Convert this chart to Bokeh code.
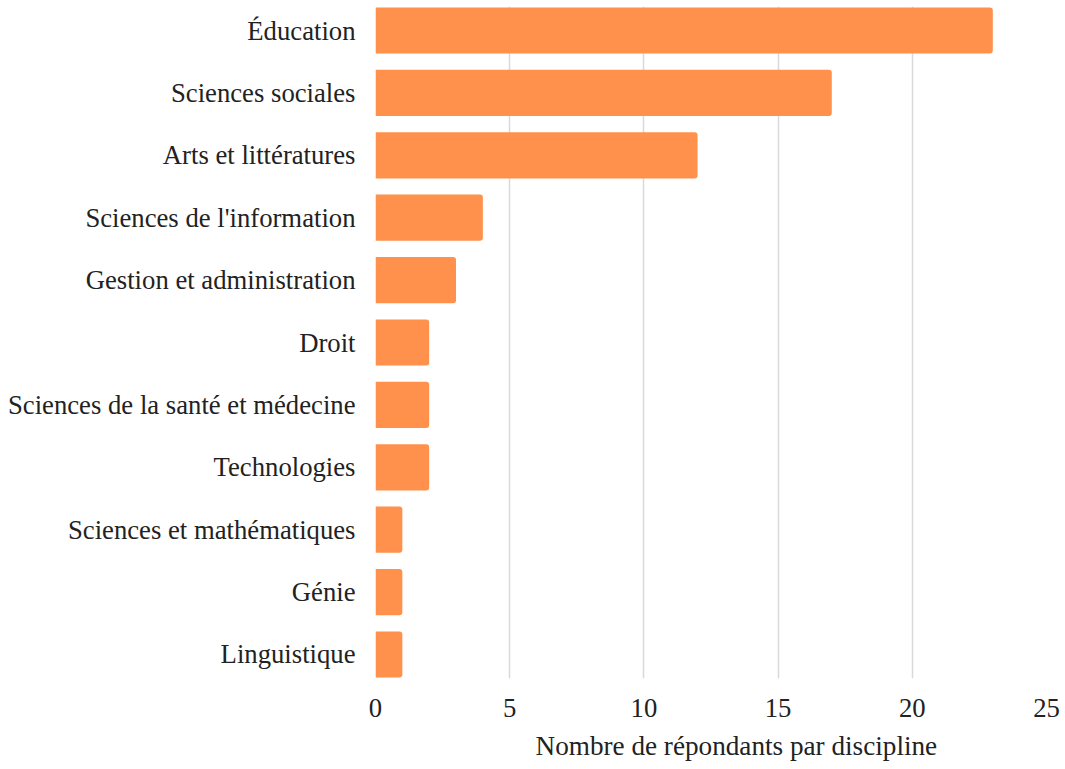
from bokeh.plotting import figure
from bokeh.models import FactorRange, Title, FixedTicker
from bokeh.embed import file_html
from bokeh.resources import INLINE

disciplines = ["Éducation", "Sciences sociales", "Arts et littératures",
               "Sciences de l'information", "Gestion et administration", "Droit",
               "Sciences de la santé et médecine", "Technologies",
               "Sciences et mathématiques", "Génie", "Linguistique"]
counts = [23, 17, 12, 4, 3, 2, 2, 2, 1, 1, 1]
x_ticks = [0, 5, 10, 15, 20, 25]
x_title = "Nombre de répondants par discipline"

FONT = "Liberation Serif"

y_range = FactorRange(factors=list(reversed(disciplines)),
                      range_padding=-0.115, range_padding_units="absolute")

p = figure(width=1060, height=769, y_range=y_range, x_range=(0, 25),
           output_backend="svg", toolbar_location=None,
           min_border_left=375, min_border_right=14,
           min_border_top=6, min_border_bottom=89)

p.hbar(y=disciplines, right=counts, left=0, height=0.74,
       fill_color="#FF914D", line_color=None, border_radius=(0, 3, 3, 0))

p.outline_line_color = None
p.background_fill_color = "white"
p.border_fill_color = "white"

p.ygrid.grid_line_color = None
p.xgrid.grid_line_color = "#d9d9d9"
p.xgrid.grid_line_width = 1.5
p.xaxis.ticker = FixedTicker(ticks=x_ticks)

for ax in (p.xaxis[0], p.yaxis[0]):
    ax.axis_line_color = None
    ax.major_tick_line_color = None
    ax.minor_tick_line_color = None
    ax.major_tick_in = 0
    ax.major_tick_out = 0
    ax.major_label_text_font = FONT
    ax.major_label_text_font_size = "26.7px"
    ax.major_label_text_color = "#222222"

p.yaxis.major_label_standoff = 20
p.xaxis.major_label_standoff = 20

p.add_layout(Title(text=x_title, align="left", offset=160,
                   text_font=FONT, text_font_size="27.2px",
                   text_font_style="normal", text_color="#222222",
                   standoff=18), "below")

open("out.html", "w").write(file_html(p, INLINE))
